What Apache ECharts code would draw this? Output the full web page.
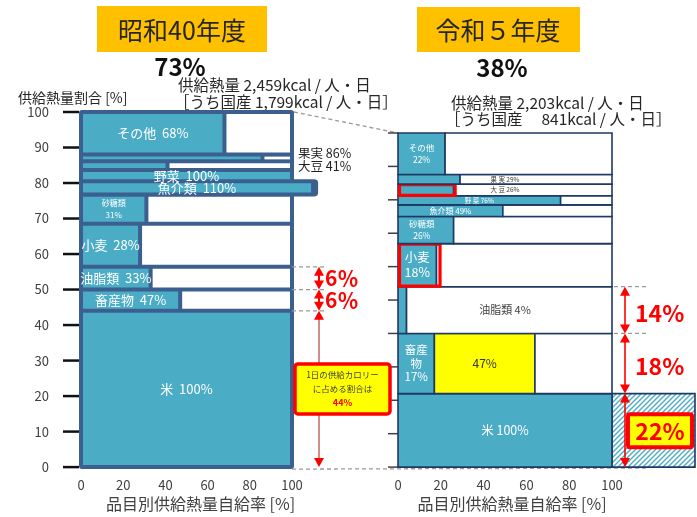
<!DOCTYPE html>
<html>
<head>
<meta charset="utf-8">
<script src="https://cdn.jsdelivr.net/npm/echarts@6/dist/echarts.min.js"></script>
<style>
  html, body { margin: 0; padding: 0; background: #fff; }
  #chart { width: 697px; height: 517px; }
</style>
</head>
<body>
<div id="chart"></div>
<script>
// 品目（下から積み上げる順）
const items = ['米', '畜産物', '油脂類', '小麦', '砂糖類', '魚介類', '野菜', '大豆', '果実', 'その他'];

// 昭和40年度: 供給熱量割合 [%] と 品目別自給率 [%]
const s40Share = [44, 6, 6.4, 12.1, 8.3, 3.7, 3.2, 2.4, 1.9, 12];
const s40Rate = [100, 47, 33, 28, 31, 110, 100, 41, 86, 68];

// 令和5年度
const r5Share = [22, 18, 14, 12.9, 8.1, 3.5, 2.7, 3.5, 2.9, 12.4];
const r5Rate = [100, 17, 4, 18, 26, 49, 76, 26, 29, 22];
const r5LivestockBand = 64;     // 畜産物の黄色部分の右端
const r5LivestockLabel = '47%';

const xTicks = { min: 0, max: 100, interval: 20 };
const yTicks = { min: 0, max: 100, interval: 10 };

const FONT = '"Noto Sans CJK JP", "Noto Sans", sans-serif';
const TEAL = '#4BACC6';
const DARK = '#3B5F8E';
const NAVY = '#1F3864';
const RED = '#FF0000';

function cum(arr) {
  const out = [0];
  arr.forEach(v => out.push(+(out[out.length - 1] + v).toFixed(2)));
  return out;
}
const cumL = cum(s40Share);
const cumR = cum(r5Share);
const leftData = items.map((n, i) => [cumL[i], cumL[i + 1], s40Rate[i], i]);
const rightData = items.map((n, i) => [cumR[i], cumR[i + 1], r5Rate[i], i]);

function txt(x, y, s, size, color, align, lh, weight) {
  return {
    type: 'text', x: x, y: y, z2: 10,
    style: {
      text: s, fill: color, fontSize: size, fontFamily: FONT, fontWeight: weight || 'normal',
      align: align || 'center', textAlign: align || 'center',
      verticalAlign: 'middle', textVerticalAlign: 'middle',
      lineHeight: lh || Math.round(size * 1.2)
    }
  };
}
function dash(x1, y1, x2, y2) {
  return { type: 'line', shape: { x1: x1, y1: y1, x2: x2, y2: y2 },
    style: { stroke: '#9a9a9a', lineWidth: 1.3, lineDash: [4, 3] } };
}
function arrow(x, yT, yB, lineColor, lw) {
  const hh = 9, hw = 5;
  return [
    { type: 'line', shape: { x1: x, y1: yT + hh - 1, x2: x, y2: yB - hh + 1 }, style: { stroke: lineColor, lineWidth: lw } },
    { type: 'polygon', shape: { points: [[x, yT], [x - hw, yT + hh], [x + hw, yT + hh]] }, style: { fill: RED } },
    { type: 'polygon', shape: { points: [[x, yB], [x - hw, yB - hh], [x + hw, yB - hh]] }, style: { fill: RED } }
  ];
}

function makeHatch() {
  const c = document.createElement('canvas');
  c.width = 5; c.height = 5;
  const ctx = c.getContext('2d');
  ctx.fillStyle = '#fff';
  ctx.fillRect(0, 0, 5, 5);
  ctx.strokeStyle = TEAL;
  ctx.lineWidth = 1.4;
  ctx.beginPath();
  ctx.moveTo(-1, 6); ctx.lineTo(6, -1);
  ctx.moveTo(-1, 1); ctx.lineTo(1, -1);
  ctx.moveTo(4, 6); ctx.lineTo(6, 4);
  ctx.stroke();
  return c;
}
const hatch = { type: 'pattern', image: makeHatch(), repeat: 'repeat' };

// 左の枠（濃い青）
function renderLeftFrame(params, api) {
  const tl = api.coord([0, 100]), br = api.coord([100, 0]);
  return { type: 'rect', shape: { x: tl[0] - 2, y: tl[1] - 2, width: br[0] - tl[0] + 4, height: br[1] - tl[1] + 4, r: 3 },
    style: { fill: DARK } };
}

function renderLeftRow(params, api) {
  const y0 = api.value(0), y1 = api.value(1), rate = api.value(2), i = api.value(3);
  const tl = api.coord([0, y1]);
  const br = api.coord([100, y0]);
  const xr = api.coord([rate, y0])[0];
  const g = 2;
  const top = tl[1] + g, h = br[1] - tl[1] - 2 * g;
  const kids = [];
  if (rate > 100) {
    kids.push({ type: 'rect', shape: { x: tl[0], y: tl[1] - g, width: xr - tl[0] + 2 * g + 1, height: br[1] - tl[1] + 2 * g, r: 4 },
      style: { fill: DARK } });
  }
  kids.push({ type: 'rect', shape: { x: tl[0] + g, y: top, width: xr - tl[0] - 2 * g, height: h }, style: { fill: TEAL } });
  if (rate < 100) {
    kids.push({ type: 'rect', shape: { x: xr + g, y: top, width: br[0] - xr - 2 * g, height: h }, style: { fill: '#fff' } });
  }
  const cy = (tl[1] + br[1]) / 2;
  const cx = (tl[0] + xr) / 2;
  if (i === 7 || i === 8) {
    kids.push(txt(br[0] + 6, cy + (i === 8 ? -5 : 1), items[i] + ' ' + rate + '%', 12.5, '#222', 'left'));
  } else if (i === 4) {
    kids.push(txt(cx, cy, items[i] + '\n' + rate + '%', 8, '#fff', 'center', 12));
  } else {
    kids.push(txt(cx, cy, items[i] + '  ' + rate + '%', 13, '#fff', 'center'));
  }
  return { type: 'group', children: kids };
}

function renderLeftNote(params, api) {
  const lo = api.value(0), hi = api.value(1), k = api.value(2);
  const x100 = api.coord([100, 0])[0];
  const yT = api.coord([100, hi])[1], yB = api.coord([100, lo])[1];
  const ax = x100 + 27;
  const kids = [dash(x100, yT, x100 + 32, yT)];
  if (k === 0) {
    kids.push(...arrow(ax, yT, yB, '#C86464', 1.5));
    const cy = (yT + yB) / 2;
    kids.push({ type: 'rect', shape: { x: ax - 24, y: cy - 25, width: 95, height: 50, r: 3 },
      style: { fill: '#FFFF00', stroke: RED, lineWidth: 3.5 } });
    kids.push({
      type: 'text', x: ax + 23.5, y: cy, z2: 10,
      style: {
        text: '{a|1日の供給カロリー}\n{a|に占める割合は}\n{b|' + Math.round(s40Share[0]) + '%}',
        align: 'center', textAlign: 'center', verticalAlign: 'middle', textVerticalAlign: 'middle',
        rich: {
          a: { fontSize: 8.5, fontFamily: FONT, fill: '#404040', lineHeight: 14, align: 'center' },
          b: { fontSize: 9, fontFamily: FONT, fill: RED, fontWeight: 'bold', lineHeight: 14, align: 'center' }
        }
      }
    });
  } else {
    kids.push(...arrow(ax, yT, yB, RED, 2));
    kids.push(txt(ax + 6, (yT + yB) / 2, Math.round(s40Share[k]) + '％', 21, RED, 'left', 24, 'bold'));
  }
  return { type: 'group', children: kids };
}

function renderRightRow(params, api) {
  const y0 = api.value(0), y1 = api.value(1), rate = api.value(2), i = api.value(3);
  const tl = api.coord([0, y1]), br = api.coord([100, y0]);
  const xr = api.coord([rate, y0])[0];
  const x0 = tl[0], top = tl[1], x100 = br[0], h = br[1] - tl[1];
  const kids = [];
  const cell = (xa, xb, fill) => ({ type: 'rect', shape: { x: xa, y: top, width: xb - xa, height: h },
    style: { fill: fill, stroke: NAVY, lineWidth: 1.6 } });
  if (i === 0) {
    kids.push({ type: 'rect', shape: { x: x100, y: top, width: api.getWidth() - x100 - 2, height: h },
      style: { fill: hatch, stroke: NAVY, lineWidth: 1.6 } });
  }
  kids.push(cell(x0, xr, TEAL));
  let xs = xr;
  if (i === 1) {
    const xb = api.coord([r5LivestockBand, y0])[0];
    kids.push(cell(xs, xb, '#FFFF00'));
    kids.push(txt((xs + xb) / 2, top + h / 2, r5LivestockLabel, 12, '#333'));
    xs = xb;
  }
  if (rate < 100) kids.push(cell(xs, x100, '#fff'));
  if (i === 3 || i === 7) {
    kids.push({ type: 'rect', shape: { x: x0 + 1.5, y: top + 0.5, width: xr - x0 + (i === 3 ? 2 : 0), height: h - 1 },
      style: { fill: 'none', stroke: RED, lineWidth: 3.2 } });
  }
  const cy = top + h / 2, tcx = (x0 + xr) / 2, bcx = (x0 + x100) / 2;
  const nm = items[i], pc = rate + '%';
  switch (i) {
    case 0: kids.push(txt(bcx, cy, nm + ' ' + pc, 12.5, '#fff')); break;
    case 1: kids.push(txt(tcx, cy, '畜産\n物\n' + pc, 11.5, '#fff', 'center', 13.5)); break;
    case 2: kids.push(txt(bcx, cy, nm + ' ' + pc, 11, '#404040')); break;
    case 3: kids.push(txt(tcx, cy, nm + '\n' + pc, 12.5, '#fff', 'center', 15)); break;
    case 4: kids.push(txt(tcx - 4, cy, nm + '\n' + pc, 8.5, '#fff', 'center', 12)); break;
    case 5: kids.push(txt(tcx, cy, nm + ' ' + pc, 8, '#fff')); break;
    case 6: kids.push(txt(tcx, cy, nm.split('').join(' ') + ' ' + pc, 6.5, '#fff')); break;
    case 7:
    case 8: kids.push(txt(bcx, cy, nm.split('').join(' ') + ' ' + pc, 6.5, '#404040')); break;
    default: kids.push(txt(tcx, cy, nm + '\n' + pc, 8.5, '#fff', 'center', 12));
  }
  return { type: 'group', children: kids };
}

function renderRightNote(params, api) {
  const lo = api.value(0), hi = api.value(1), k = api.value(2);
  const x100 = api.coord([100, 0])[0];
  const yT = api.coord([100, hi])[1], yB = api.coord([100, lo])[1];
  const ax = x100 + 13;
  const kids = [];
  if (k > 0) kids.push(dash(x100 + 2, yT, x100 + 34, yT));
  kids.push(...arrow(ax, yT, yB, RED, 1.6));
  const label = Math.round(r5Share[k]) + '%';
  const cy = (yT + yB) / 2;
  if (k === 0) {
    kids.push({ type: 'rect', shape: { x: ax + 3, y: cy - 16, width: 64, height: 33, r: 2 },
      style: { fill: '#FFFF00', stroke: RED, lineWidth: 4 } });
    kids.push(txt(ax + 35, cy + 1, label, 23, RED, 'center', 26, 'bold'));
  } else {
    kids.push(txt(ax + 10, cy + 3, label, 23, RED, 'left', 26, 'bold'));
  }
  return { type: 'group', children: kids };
}

const axisLabelStyle = { color: '#404040', fontSize: 13, fontFamily: FONT };

const option = {
  animation: false,
  grid: [
    { left: 81, top: 112, width: 211, height: 360 },
    { left: 398, top: 133, width: 214, height: 340 }
  ],
  xAxis: [0, 1].map(gi => ({
    gridIndex: gi, type: 'value', min: xTicks.min, max: xTicks.max, interval: xTicks.interval,
    axisLine: { show: false }, axisTick: { show: false }, splitLine: { show: false },
    axisLabel: Object.assign({ margin: 11 }, axisLabelStyle),
    name: '品目別供給熱量自給率 [%]', nameLocation: 'middle', nameGap: 27,
    nameTextStyle: { fontSize: 16, color: '#404040', fontFamily: FONT, padding: gi === 0 ? [0, 0, 0, 28] : [0, 0, 0, 14] }
  })),
  yAxis: [
    {
      // 目盛り線はラベルの右側に付けた帯で描く
      gridIndex: 0, type: 'value', min: yTicks.min, max: yTicks.max, interval: yTicks.interval,
      axisLine: { show: false }, axisTick: { show: false }, splitLine: { show: false },
      axisLabel: {
        margin: 2,
        formatter: v => '{v|' + v + '}{t| }',
        rich: {
          v: { color: '#404040', fontSize: 13, fontFamily: FONT, padding: [0, 14, 0, 0] },
          t: { width: 16, height: 2.5, backgroundColor: '#111', fontSize: 1, lineHeight: 3 }
        }
      }
    },
    {
      gridIndex: 1, type: 'value', min: yTicks.min, max: yTicks.max, interval: yTicks.interval,
      axisLine: { show: false }, axisTick: { show: false }, splitLine: { show: false },
      axisLabel: {
        margin: 0,
        formatter: () => '{t| }',
        rich: { t: { width: 10, height: 1.5, backgroundColor: '#404040', fontSize: 1, lineHeight: 2 } }
      }
    }
  ],
  series: [
    { type: 'custom', xAxisIndex: 0, yAxisIndex: 0, silent: true, renderItem: renderLeftFrame, data: [[50, 50]] },
    { type: 'custom', xAxisIndex: 0, yAxisIndex: 0, silent: true, renderItem: renderLeftRow, data: leftData },
    { type: 'custom', xAxisIndex: 0, yAxisIndex: 0, silent: true, z: 5, renderItem: renderLeftNote,
      data: [0, 1, 2].map(k => [cumL[k], cumL[k + 1], k]) },
    { type: 'custom', xAxisIndex: 1, yAxisIndex: 1, silent: true, renderItem: renderRightRow, data: rightData },
    { type: 'custom', xAxisIndex: 1, yAxisIndex: 1, silent: true, z: 5, renderItem: renderRightNote,
      data: [0, 1, 2].map(k => [cumR[k], cumR[k + 1], k]) }
  ]
};

const chart = echarts.init(document.getElementById('chart'));
chart.setOption(option);

// 見出しと、左右の図をつなぐ点線
const lTop = chart.convertToPixel({ gridIndex: 0 }, [100, 100]);
const lBot = chart.convertToPixel({ gridIndex: 0 }, [100, 0]);
const rTop = chart.convertToPixel({ gridIndex: 1 }, [0, 100]);
const rBot = chart.convertToPixel({ gridIndex: 1 }, [100, 0]);

function gtext(x, y, s, size, opts) {
  return {
    type: 'text', x: x, y: y,
    style: Object.assign({ text: s, fontSize: size, fontFamily: FONT, fill: '#262626',
      align: 'left', textAlign: 'left', verticalAlign: 'middle', textVerticalAlign: 'middle' }, opts || {})
  };
}
const center = { align: 'center', textAlign: 'center' };

chart.setOption({
  graphic: { elements: [
    { type: 'line', z: -1, shape: { x1: lTop[0] + 2, y1: lTop[1], x2: rTop[0], y2: rTop[1] },
      style: { stroke: '#9a9a9a', lineWidth: 1.3, lineDash: [4, 3] } },
    { type: 'line', z: -1, shape: { x1: lBot[0], y1: lBot[1] + 2, x2: rBot[0] + 34, y2: rBot[1] + 1 },
      style: { stroke: '#9a9a9a', lineWidth: 1.3, lineDash: [4, 3] } },
    { type: 'rect', shape: { x: 97, y: 6, width: 170, height: 46 }, style: { fill: '#FFC000' } },
    gtext(182, 30, '昭和40年度', 25, center),
    gtext(180, 67, '73%', 24, Object.assign({ fontWeight: 'bold', fill: '#111' }, center)),
    { type: 'rect', shape: { x: 417, y: 7, width: 163, height: 45 }, style: { fill: '#FFC000' } },
    gtext(498, 30, '令和５年度', 25, center),
    gtext(502, 68, '38%', 24, Object.assign({ fontWeight: 'bold', fill: '#111' }, center)),
    gtext(178, 85, '供給熱量 2,459kcal / 人・日', 15.5),
    gtext(174, 102, '［うち国産 1,799kcal / 人・日］', 15.5),
    gtext(18, 98, '供給熱量割合 [%]', 14),
    gtext(451, 103, '供給熱量 2,203kcal / 人・日', 15.5),
    gtext(445, 119, '［うち国産　 841kcal / 人・日］', 15.5)
  ] }
});
</script>
</body>
</html>
